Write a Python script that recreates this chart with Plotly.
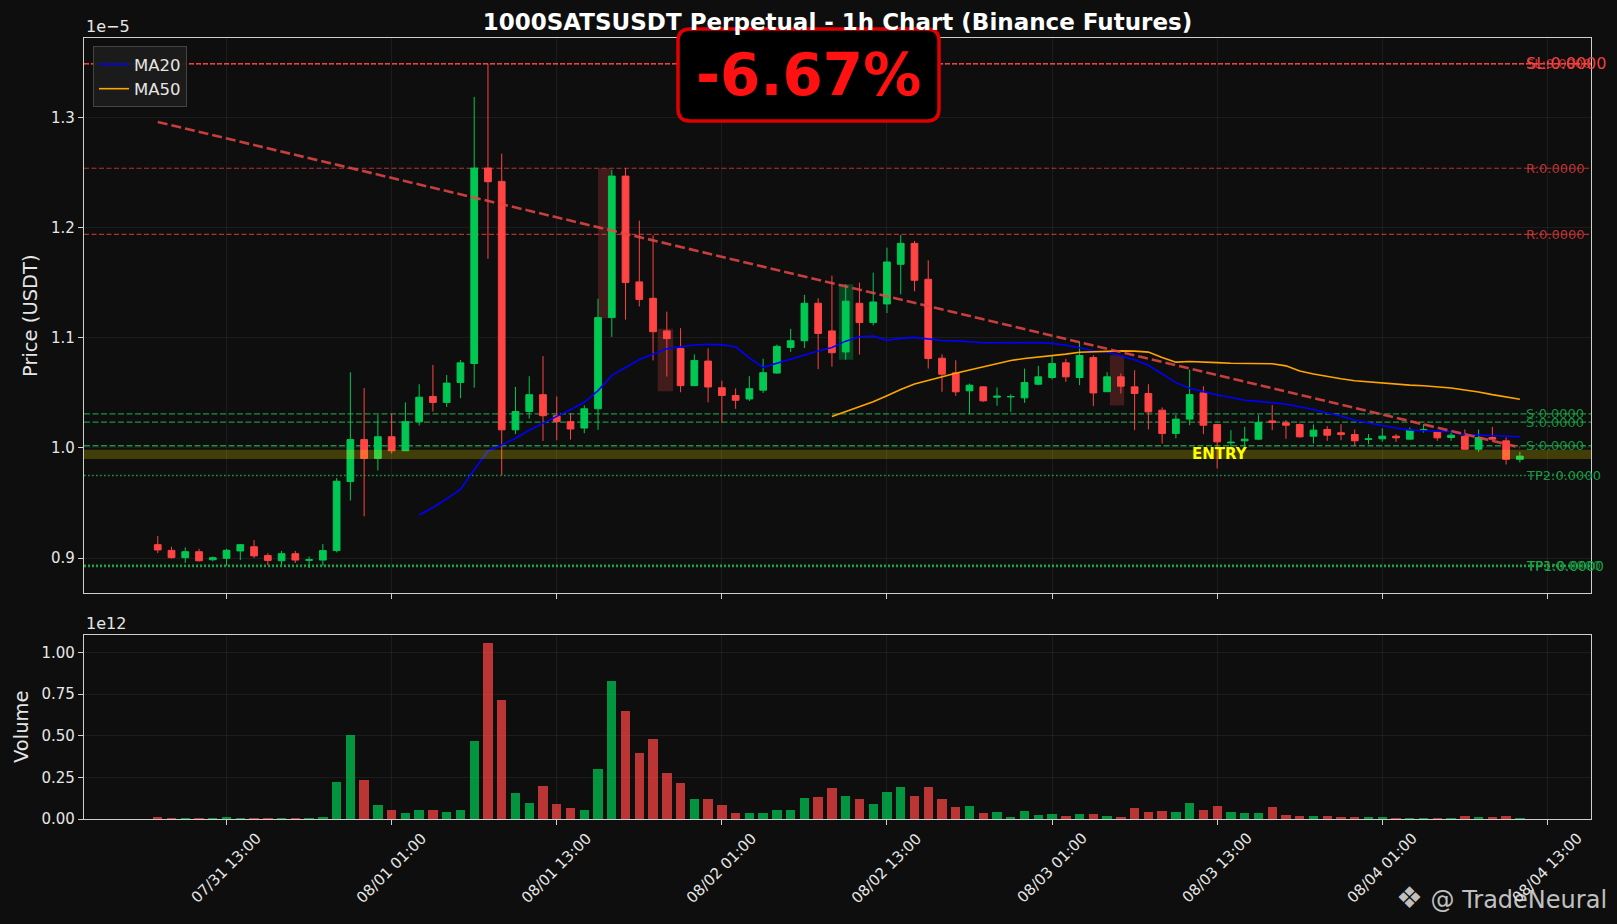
import pandas as pd
import plotly.graph_objects as go
from plotly.subplots import make_subplots

# 1h candles. prices are in units of 1e-5 USDT, volume in units of 1e12
start_time = "2024-07-31 08:00"

opens = [0.9122, 0.9070, 0.9004, 0.9058, 0.8985, 0.8998, 0.9065, 0.9103, 0.9023, 0.8976,
         0.9040, 0.8980, 0.8982, 0.9068, 0.9695, 1.0076, 0.9905, 1.0102, 0.9975, 1.0239,
         1.0468, 1.0414, 1.0595, 1.0767, 1.2542, 1.2421, 1.0165, 1.0331, 1.0484, 1.0293,
         1.0239, 1.0181, 1.0356, 1.1184, 1.2469, 1.1508, 1.1359, 1.1063, 1.0904, 1.0566,
         1.0789, 1.0547, 1.0477, 1.0445, 1.0525, 1.0680, 1.0913, 1.0974, 1.1314, 1.1063,
         1.0872, 1.1314, 1.1139, 1.1308, 1.1668, 1.1858, 1.1532, 1.0815, 1.0682, 1.0519,
         1.0555, 1.0461, 1.0464, 1.0455, 1.0579, 1.0640, 1.0773, 1.0640, 1.0821, 1.0511,
         1.0646, 1.0555, 1.0495, 1.0343, 1.0132, 1.0262, 1.0500, 1.0213, 1.0047, 1.0065,
         1.0080, 1.0246, 1.0228, 1.0213, 1.0107, 1.0168, 1.0138, 1.0122, 1.0077, 1.0083,
         1.0107, 1.0080, 1.0164, 1.0147, 1.0095, 1.0107, 0.9989, 1.0095, 1.0065, 0.9896]
highs = [0.9200, 0.9103, 0.9097, 0.9084, 0.9014, 0.9084, 0.9128, 0.9163, 0.9045, 0.9065,
         0.9065, 0.9014, 0.9128, 0.9726, 1.0687, 1.0544, 1.0300, 1.0312, 1.0414, 1.0579,
         1.0754, 1.0662, 1.0799, 1.3188, 1.3490, 1.2673, 1.0554, 1.0652, 1.0834, 1.0468,
         1.0318, 1.0388, 1.1355, 1.2526, 1.2542, 1.2065, 1.1931, 1.1238, 1.1088, 1.0850,
         1.0904, 1.0611, 1.0541, 1.0652, 1.0811, 1.0939, 1.1082, 1.1390, 1.1359, 1.1565,
         1.1486, 1.1502, 1.1592, 1.1819, 1.1934, 1.1880, 1.1704, 1.0851, 1.0797, 1.0585,
         1.0561, 1.0550, 1.0488, 1.0721, 1.0746, 1.0836, 1.0809, 1.0963, 1.0842, 1.0688,
         1.0676, 1.0706, 1.0579, 1.0368, 1.0298, 1.0712, 1.0561, 1.0213, 1.0162, 1.0192,
         1.0298, 1.0389, 1.0253, 1.0222, 1.0213, 1.0198, 1.0216, 1.0168, 1.0126, 1.0177,
         1.0126, 1.0186, 1.0216, 1.0147, 1.0138, 1.0168, 1.0168, 1.0192, 1.0095, 0.9965]
lows = [0.9045, 0.8995, 0.8956, 0.8970, 0.8970, 0.8931, 0.8982, 0.9001, 0.8937, 0.8937,
        0.8956, 0.8909, 0.8931, 0.9052, 0.9523, 0.9380, 0.9796, 0.9950, 0.9975, 1.0204,
        1.0331, 1.0372, 1.0452, 1.0547, 1.1718, 0.9752, 1.0127, 1.0267, 1.0064, 1.0070,
        1.0076, 1.0134, 1.0165, 1.1009, 1.1165, 1.1285, 1.0795, 1.0649, 1.0506, 1.0566,
        1.0414, 1.0229, 1.0356, 1.0426, 1.0500, 1.0675, 1.0872, 1.0907, 1.0716, 1.0738,
        1.0802, 1.0848, 1.1114, 1.1226, 1.1396, 1.1423, 1.0721, 1.0510, 1.0473, 1.0307,
        1.0419, 1.0383, 1.0328, 1.0410, 1.0570, 1.0622, 1.0600, 1.0570, 1.0380, 1.0511,
        1.0495, 1.0162, 1.0168, 1.0041, 1.0087, 1.0207, 1.0126, 0.9814, 0.9996, 0.9996,
        1.0071, 1.0162, 1.0083, 1.0095, 1.0041, 1.0065, 1.0071, 1.0017, 1.0035, 1.0056,
        1.0056, 1.0080, 1.0140, 1.0065, 1.0065, 0.9989, 0.9965, 1.0065, 0.9850, 0.9869]
closes = [0.9074, 0.9004, 0.9058, 0.8976, 0.9004, 0.9071, 0.9122, 0.9020, 0.8979, 0.9040,
          0.8982, 0.8985, 0.9068, 0.9698, 1.0076, 0.9905, 1.0102, 0.9975, 1.0239, 1.0461,
          1.0414, 1.0589, 1.0773, 1.2542, 1.2418, 1.0165, 1.0331, 1.0484, 1.0293, 1.0239,
          1.0172, 1.0356, 1.1184, 1.2469, 1.1502, 1.1349, 1.1056, 1.0993, 1.0566, 1.0795,
          1.0554, 1.0477, 1.0433, 1.0538, 1.0684, 1.0923, 1.0974, 1.1314, 1.1040, 1.0865,
          1.1333, 1.1139, 1.1326, 1.1689, 1.1858, 1.1523, 1.0812, 1.0670, 1.0510, 1.0570,
          1.0428, 1.0470, 1.0467, 1.0594, 1.0646, 1.0767, 1.0646, 1.0840, 1.0500, 1.0646,
          1.0561, 1.0495, 1.0328, 1.0132, 1.0262, 1.0485, 1.0207, 1.0056, 1.0052, 1.0080,
          1.0231, 1.0231, 1.0207, 1.0101, 1.0162, 1.0116, 1.0122, 1.0065, 1.0083, 1.0107,
          1.0092, 1.0162, 1.0168, 1.0092, 1.0116, 0.9989, 1.0095, 1.0080, 0.9896, 0.9926]
volumes = [0.010, 0.006, 0.006, 0.002, 0.002, 0.014, 0.006, 0.006, 0.006, 0.006,
           0.002, 0.006, 0.014, 0.222, 0.502, 0.236, 0.086, 0.056, 0.038, 0.052,
           0.056, 0.044, 0.052, 0.470, 1.056, 0.714, 0.156, 0.094, 0.198, 0.090,
           0.068, 0.056, 0.302, 0.830, 0.648, 0.394, 0.482, 0.278, 0.216, 0.118,
           0.118, 0.084, 0.038, 0.038, 0.038, 0.056, 0.056, 0.128, 0.132, 0.184,
           0.140, 0.118, 0.090, 0.160, 0.194, 0.136, 0.194, 0.122, 0.072, 0.080,
           0.038, 0.044, 0.014, 0.048, 0.024, 0.028, 0.020, 0.032, 0.032, 0.020,
           0.014, 0.066, 0.044, 0.048, 0.044, 0.098, 0.056, 0.076, 0.044, 0.038,
           0.038, 0.072, 0.026, 0.020, 0.020, 0.020, 0.014, 0.014, 0.010, 0.014,
           0.006, 0.006, 0.006, 0.006, 0.006, 0.020, 0.010, 0.010, 0.020, 0.006]

# trade levels (same 1e-5 units)
sl_level = 1.349
resistance_levels = [1.254, 1.194]
support_levels = [1.031, 1.0235, 1.002]
entry_low = 0.990
entry_high = 0.9984
tp2_level = 0.975
tp1_level = 0.893
trend_values = [1.296, 1.0005]  # first and last candle
pct_text = "-6.67%"

# highlighted zones: candle index start/end, price low/high
zone_start = [32.0, 36.34, 49.5, 69.2]
zone_end = [32.95, 37.46, 50.55, 70.24]
zone_low = [1.1177, 1.0515, 1.0802, 1.0386]
zone_high = [1.254, 1.1082, 1.1486, 1.0842]
zone_bull = [False, False, True, False]

tick_start = "2024-07-31 13:00"
n_ticks = 9

GREEN = "#00c853"
RED = "#ff4444"
BG = "#0e0e0e"
TXT = "#e6e6e6"
FONT = "DejaVu Sans"

times = pd.date_range(start_time, periods=len(closes), freq="h")
df = pd.DataFrame({"open": opens, "high": highs, "low": lows, "close": closes,
                   "volume": volumes}, index=times)
df["ma20"] = df["close"].rolling(20).mean()
df["ma50"] = df["close"].rolling(50).mean()
vol_colors = [GREEN if c >= o else RED for o, c in zip(df["open"], df["close"])]


def at(h):
    return times[0] + pd.Timedelta(hours=h)


# pixel helpers for layout bits
W, H = 1617, 924
ML, MR, MT, MB = 84, 26, 38, 105
PW, PH = W - ML - MR, H - MT - MB


def px_x(px):
    return (px - ML) / PW


def px_y(py):
    return (H - MB - py) / PH


fig = make_subplots(rows=2, cols=1, shared_xaxes=True)

fig.add_trace(go.Candlestick(x=df.index, open=df["open"], high=df["high"], low=df["low"],
                             close=df["close"], whiskerwidth=0, showlegend=False,
                             increasing=dict(line=dict(color=GREEN, width=1), fillcolor=GREEN),
                             decreasing=dict(line=dict(color=RED, width=1), fillcolor=RED)),
              row=1, col=1)
fig.add_trace(go.Scatter(x=df.index, y=df["ma20"], mode="lines", name="MA20",
                         line=dict(color="#0000ff", width=1.6)), row=1, col=1)
fig.add_trace(go.Scatter(x=df.index, y=df["ma50"], mode="lines", name="MA50",
                         line=dict(color="#ffa500", width=1.6)), row=1, col=1)
fig.add_trace(go.Scatter(x=[times[0], times[-1]], y=trend_values, mode="lines", showlegend=False,
                         line=dict(color="rgba(230,70,70,0.85)", width=2.6, dash="10px,4px")),
              row=1, col=1)
fig.add_trace(go.Bar(x=df.index, y=df["volume"], marker_color=vol_colors, opacity=0.72,
                     marker_line_width=0, width=0.68 * 3600 * 1000, showlegend=False),
              row=2, col=1)

# zones under the candles
for x0, x1, lo, hi, bull in zip(zone_start, zone_end, zone_low, zone_high, zone_bull):
    fill = "rgba(0,200,83,0.28)" if bull else "rgba(200,60,60,0.28)"
    fig.add_shape(type="rect", xref="x", yref="y", x0=at(x0), x1=at(x1), y0=lo, y1=hi,
                  fillcolor=fill, line_width=0, layer="below")

# level lines
fig.add_hline(y=sl_level, row=1, col=1, layer="below",
              line=dict(color="rgba(255,68,68,0.9)", width=1.5, dash="5px,2px"))
fig.add_hline(y=sl_level, row=1, col=1, layer="below",
              line=dict(color="rgba(255,68,68,0.8)", width=1.5, dash="1.5px,2px"))
for lvl in resistance_levels:
    fig.add_hline(y=lvl, row=1, col=1, layer="below",
                  line=dict(color="rgba(220,60,60,0.8)", width=1.2, dash="5px,2.5px"))
for lvl in support_levels:
    fig.add_hline(y=lvl, row=1, col=1, layer="below",
                  line=dict(color="rgba(30,170,75,0.85)", width=1.4, dash="6px,2.5px"))
fig.add_hline(y=tp2_level, row=1, col=1, layer="below",
              line=dict(color="rgba(30,170,75,0.9)", width=1.6, dash="1.6px,2.4px"))
fig.add_hline(y=tp1_level, row=1, col=1, layer="below",
              line=dict(color="rgba(30,170,75,0.95)", width=2.8, dash="2px,2px"))
fig.add_hrect(y0=entry_low, y1=entry_high, row=1, col=1, layer="above",
              fillcolor="rgba(255,235,0,0.22)", line_width=0)

# right side level labels
lab_x = at(99.3)
labels = [(sl_level, "SL:0.0000", 16, "rgba(255,68,68,0.95)"),
          (sl_level, "SL:0.0000", 13, "rgba(255,68,68,0.7)")]
labels += [(lvl, "R:0.0000", 13, "rgba(220,60,60,0.85)") for lvl in resistance_levels]
labels += [(lvl, "S:0.0000", 13, "rgba(30,170,75,0.85)") for lvl in support_levels]
labels += [(tp2_level, "TP2:0.0000", 13, "rgba(30,170,75,0.9)"),
           (tp1_level, "TP1:0.0000", 13.5, "rgba(30,170,75,0.95)"),
           (tp1_level, "TP3:0.0000", 13, "rgba(30,170,75,0.7)")]
for lvl, txt, size, col in labels:
    fig.add_annotation(x=lab_x, y=lvl, xref="x", yref="y", text=txt, showarrow=False,
                       xanchor="left", yanchor="middle", font=dict(family=FONT, size=size, color=col))

fig.add_annotation(x=at(77.2), y=(entry_low + entry_high) / 2, xref="x", yref="y", text="<b>ENTRY</b>",
                   showarrow=False, xanchor="center", yanchor="middle",
                   font=dict(family=FONT, size=15, color="#ffff00"))

# date tick labels (rotated, centred on the tick like matplotlib)
tick_times = pd.date_range(tick_start, periods=n_ticks, freq="12h")
for t in tick_times:
    fig.add_annotation(x=t, y=0, xref="x2", yref="paper", text=t.strftime("%m/%d %H:%M"),
                       showarrow=False, textangle=-45, xanchor="center", yanchor="top", yshift=-8,
                       font=dict(family=FONT, size=15, color=TXT))

# axis titles and offset texts
fig.add_annotation(x=px_x(31), y=px_y(316), xref="paper", yref="paper", text="Price (USDT)",
                   textangle=-90, showarrow=False, xanchor="center", yanchor="middle",
                   font=dict(family=FONT, size=19.5, color=TXT))
fig.add_annotation(x=px_x(21), y=px_y(727), xref="paper", yref="paper", text="Volume",
                   textangle=-90, showarrow=False, xanchor="center", yanchor="middle",
                   font=dict(family=FONT, size=19.5, color=TXT))
fig.add_annotation(x=0, y=1, xref="paper", yref="paper", text="1e\u22125", showarrow=False,
                   xanchor="left", yanchor="bottom", font=dict(family=FONT, size=16, color=TXT))
fig.add_annotation(x=0, y=px_y(635), xref="paper", yref="paper", text="1e12", showarrow=False,
                   xanchor="left", yanchor="bottom", font=dict(family=FONT, size=16, color=TXT))

# big percent box with rounded corners
bx0, bx1, by0, by1, rad = px_x(678), px_x(939), px_y(121), px_y(29), 12
rx, ry = rad / PW, rad / PH
path = (f"M {bx0+rx},{by1} L {bx1-rx},{by1} Q {bx1},{by1} {bx1},{by1-ry} "
        f"L {bx1},{by0+ry} Q {bx1},{by0} {bx1-rx},{by0} L {bx0+rx},{by0} "
        f"Q {bx0},{by0} {bx0},{by0+ry} L {bx0},{by1-ry} Q {bx0},{by1} {bx0+rx},{by1} Z")
fig.add_shape(type="path", path=path, xref="paper", yref="paper", fillcolor="#000000",
              line=dict(color="#e00000", width=3.5), layer="above")
fig.add_annotation(x=(bx0 + bx1) / 2, y=(by0 + by1) / 2, xref="paper", yref="paper",
                   text=f"<b>{pct_text}</b>", showarrow=False, xanchor="center", yanchor="middle",
                   font=dict(family=FONT, size=58, color="#ff1111"))

fig.add_annotation(x=px_x(1609), y=px_y(897), xref="paper", yref="paper",
                   text="<span style='font-size:30px'>\u2756</span> @ TradeNeural", showarrow=False,
                   xanchor="right", yanchor="middle",
                   font=dict(family=FONT, size=24, color="rgba(225,225,225,0.85)"))

axis_common = dict(showline=True, mirror=True, linecolor="#cfcfcf", linewidth=1.2,
                   ticks="outside", ticklen=5, tickcolor="#cfcfcf",
                   showgrid=True, gridcolor="rgba(255,255,255,0.06)", gridwidth=1,
                   zeroline=False, tickfont=dict(family=FONT, size=15, color=TXT))
fig.update_xaxes(**axis_common, type="date", range=[at(-5.36), at(104.17)],
                 tickvals=list(tick_times), showticklabels=False)
fig.update_yaxes(**axis_common)
fig.update_yaxes(domain=[px_y(593), 1.0], range=[0.8683, 1.3723],
                 tickvals=[0.9, 1.0, 1.1, 1.2, 1.3], tickformat=".1f", row=1, col=1)
fig.update_yaxes(domain=[0.0, px_y(635)], range=[0, 1.106],
                 tickvals=[0, 0.25, 0.5, 0.75, 1.0], tickformat=".2f", row=2, col=1)

fig.update_layout(
    width=W, height=H,
    margin=dict(l=ML, r=MR, t=MT, b=MB),
    paper_bgcolor=BG, plot_bgcolor=BG,
    font=dict(family=FONT, color=TXT),
    title=dict(text="<b>1000SATSUSDT Perpetual - 1h Chart (Binance Futures)</b>",
               x=px_x(837.5), xref="paper", xanchor="center", y=1 - 21.6 / H, yref="container",
               yanchor="middle", font=dict(family=FONT, size=23, color="#ffffff")),
    xaxis_rangeslider_visible=False,
    showlegend=True,
    legend=dict(x=px_x(93), y=px_y(46), xanchor="left", yanchor="top",
                bgcolor="rgba(28,28,28,0.95)", bordercolor="#444444", borderwidth=1,
                font=dict(family=FONT, size=16.5, color=TXT)),
    bargap=0,
)

# page has a default body margin; drop it so the figure sits at the window corner
fig.write_html("out.html", config={"displayModeBar": False},
               post_script="document.body.style.margin='0';document.body.style.background='#0e0e0e';")
